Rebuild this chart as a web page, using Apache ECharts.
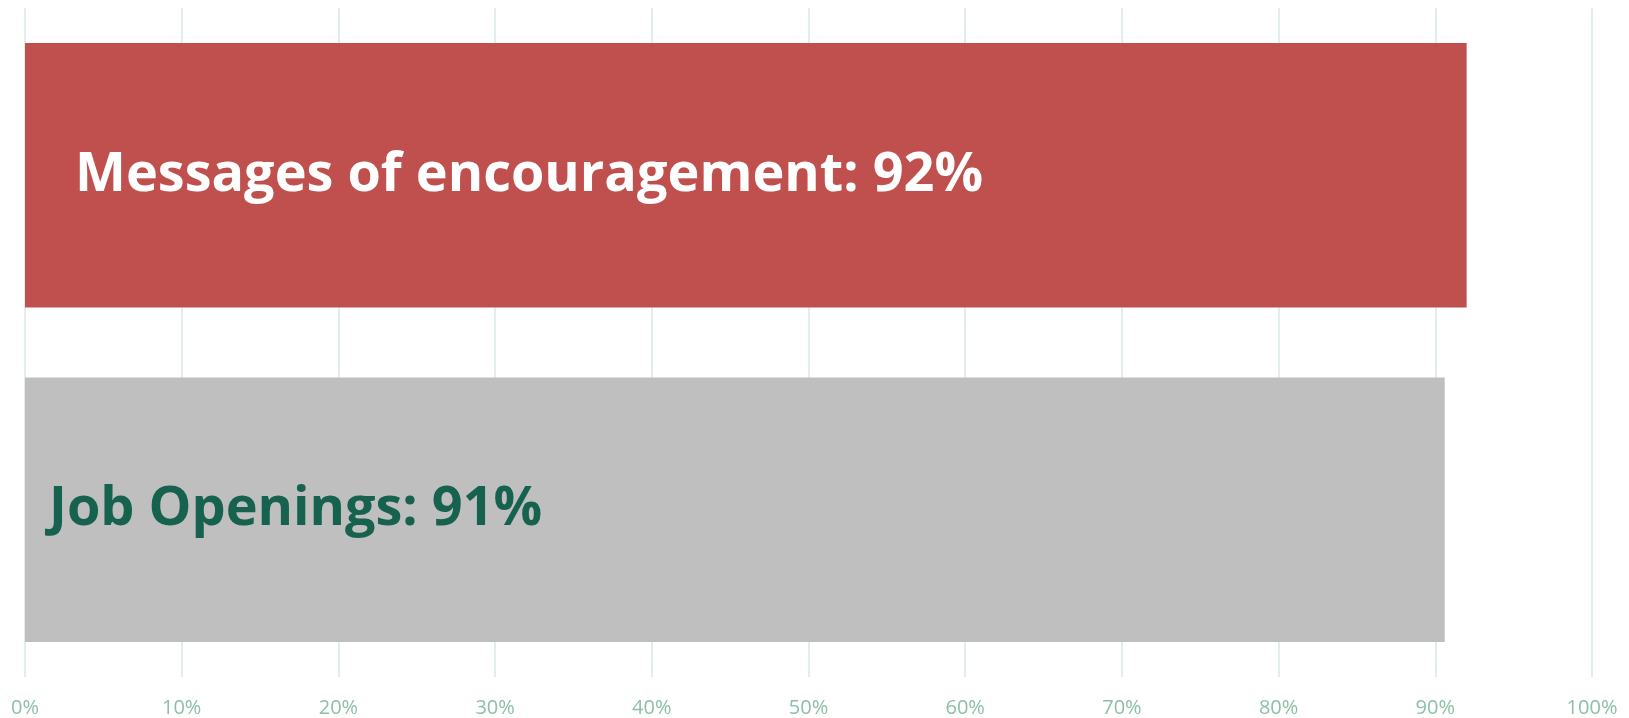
<!DOCTYPE html>
<html>
<head>
<meta charset="utf-8">
<script src="https://cdn.jsdelivr.net/npm/echarts@6/dist/echarts.min.js"></script>
<style>
  html, body { margin: 0; padding: 0; background: #fff; }
  #chart { width: 1629px; height: 718px; }
</style>
</head>
<body>
<div id="chart"></div>
<script>
// chart data
const categories = ["Messages of encouragement", "Job Openings"];
const values = [92, 90.6];
const xTicks = [0, 10, 20, 30, 40, 50, 60, 70, 80, 90, 100];

const barColors = ["#c0504d", "#bfbfbf"];
const labelColors = ["#ffffff", "#17614f"];
const labelPads = [50, 24];

const myChart = echarts.init(document.getElementById("chart"));

const option = {
  animation: false,
  grid: {
    left: 25,
    right: 37,
    top: 8,
    bottom: 41,
    containLabel: false,
  },
  xAxis: {
    type: "value",
    min: xTicks[0],
    max: xTicks[xTicks.length - 1],
    interval: 10,
    axisLine: { show: false },
    axisTick: { show: false },
    splitLine: {
      show: true,
      lineStyle: { color: "#e3edea", width: 2 },
    },
    axisLabel: {
      margin: 21,
      fontFamily: "Open Sans",
      fontSize: 20,
      color: "#8cbfa6",
      formatter: (v) => v + "%",
    },
  },
  yAxis: {
    type: "category",
    data: categories,
    inverse: true,
    axisLine: { show: false },
    axisTick: { show: false },
    axisLabel: { show: false },
    splitLine: { show: false },
  },
  series: [
    {
      type: "bar",
      barCategoryGap: "21%",
      data: values.map((v, i) => ({
        value: v,
        itemStyle: { color: barColors[i] },
        label: {
          color: labelColors[i],
          distance: labelPads[i],
        },
      })),
      label: {
        show: true,
        position: "insideLeft",
        fontFamily: "Open Sans",
        fontWeight: "bold",
        fontSize: 54,
        formatter: (p) => p.name + ": " + Math.round(p.value) + "%",
      },
    },
  ],
};

myChart.setOption(option);
</script>
</body>
</html>
